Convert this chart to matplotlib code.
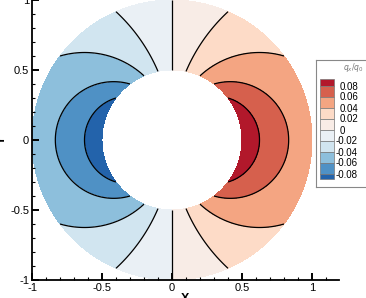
"""
Heat flux component q_x/q_0 in an annulus, tecplot-like contour plot
"""

import numpy as np
import matplotlib
matplotlib.use("Agg")
import matplotlib.pyplot as plt
from matplotlib.patches import Rectangle
from matplotlib.ticker import MultipleLocator

plt.rcParams['font.family'] = ['Liberation Sans', 'DejaVu Sans']

# geometry and field parameters
r_inner = 0.5
r_outer = 1.0
amplitude = 0.05   # q_x/q_0 = amplitude * cos(theta) / r

levels = [-0.1, -0.08, -0.06, -0.04, -0.02, 0.0, 0.02, 0.04, 0.06, 0.08, 0.1]
line_levels = [-0.08, -0.06, -0.04, -0.02, 0.0, 0.02, 0.04, 0.06, 0.08]
band_colors = ['#2363ab', '#4f91c5', '#8dbfdc', '#d1e5f0', '#eaf0f5',
               '#f8ece6', '#fddbc7', '#f4a582', '#d6604d', '#b2182b']
legend_labels = ['0.08', '0.06', '0.04', '0.02', '0',
                 '-0.02', '-0.04', '-0.06', '-0.08']

# polar mesh of the annulus
r = np.linspace(r_inner, r_outer, 120)
th = np.linspace(0.0, 2.0 * np.pi, 721) + 1e-4
R, TH = np.meshgrid(r, th)
X = R * np.cos(TH)
Y = R * np.sin(TH)
Q = amplitude * np.cos(TH) / R

W, H = 366, 298
fig = plt.figure(figsize=(W / 100.0, H / 100.0), dpi=100)

# main axes in pixel positions
x0, x1 = 32.0, 338.6
y0, y1 = 280.0, 0.0
ax = fig.add_axes([x0 / W, 1 - y0 / H, (x1 - x0) / W, (y0 - y1) / H])
ax.contourf(X, Y, Q, levels=levels, colors=band_colors)
ax.contour(X, Y, Q, levels=line_levels, colors='k', linewidths=0.9,
           linestyles='solid')
ax.set_xlim(-1, 1.19)
ax.set_ylim(-1, 1)

for side in ['top', 'right']:
    ax.spines[side].set_visible(False)
for side in ['left', 'bottom']:
    ax.spines[side].set_linewidth(1.3)
ax.spines['bottom'].set_bounds(-1, 1.19)

ax.xaxis.set_major_locator(MultipleLocator(0.5))
ax.xaxis.set_minor_locator(MultipleLocator(0.1))
ax.yaxis.set_major_locator(MultipleLocator(0.5))
ax.yaxis.set_minor_locator(MultipleLocator(0.1))
ax.set_xticks([-1, -0.5, 0, 0.5, 1])
ax.set_xticklabels(['-1', '-0.5', '0', '0.5', '1'])
ax.set_yticks([-1, -0.5, 0, 0.5, 1])
ax.set_yticklabels(['-1', '-0.5', '0', '0.5', '1'])
ax.tick_params(which='major', direction='in', length=5, width=1.4,
               labelsize=8, pad=2)
ax.tick_params(which='minor', direction='in', length=2.5, width=0.8)

ax.set_xlabel('X', fontsize=9, fontweight='bold', labelpad=0)
ax.set_ylabel('Y', fontsize=9, fontweight='bold', labelpad=2)

# legend box, drawn in its own axes with pixel units
lx0 = 316.0
lax = fig.add_axes([lx0 / W, 1 - 187.0 / H, (372.0 - lx0) / W, 127.0 / H])
lax.set_xlim(0, 372.0 - lx0)
lax.set_ylim(187, 60)
lax.set_xticks([])
lax.set_yticks([])
for sp in lax.spines.values():
    sp.set_edgecolor('#888888')
    sp.set_linewidth(0.8)

lax.text(37, 68, r'$q_x/q_0$', fontsize=5.5, color='#777777',
         ha='center', va='center')

# box edges: top, one boundary per label, bottom
edges = [79.0] + [85.5 + 11.0 * i for i in range(len(legend_labels))] + [179.0]
top_first = band_colors[::-1]
for i in range(len(top_first)):
    lax.add_patch(Rectangle((4, edges[i]), 14, edges[i + 1] - edges[i],
                            facecolor=top_first[i], edgecolor='#777777',
                            linewidth=0.5))
# digits line up, the minus sign hangs to the left
for i, lab in enumerate(legend_labels):
    lx = 24.0 - (4.0 if lab.startswith('-') else 0.0)
    lax.text(lx, edges[i + 1] + 1, lab, fontsize=7, ha='left', va='center')

fig.savefig('out.png', dpi=100)
